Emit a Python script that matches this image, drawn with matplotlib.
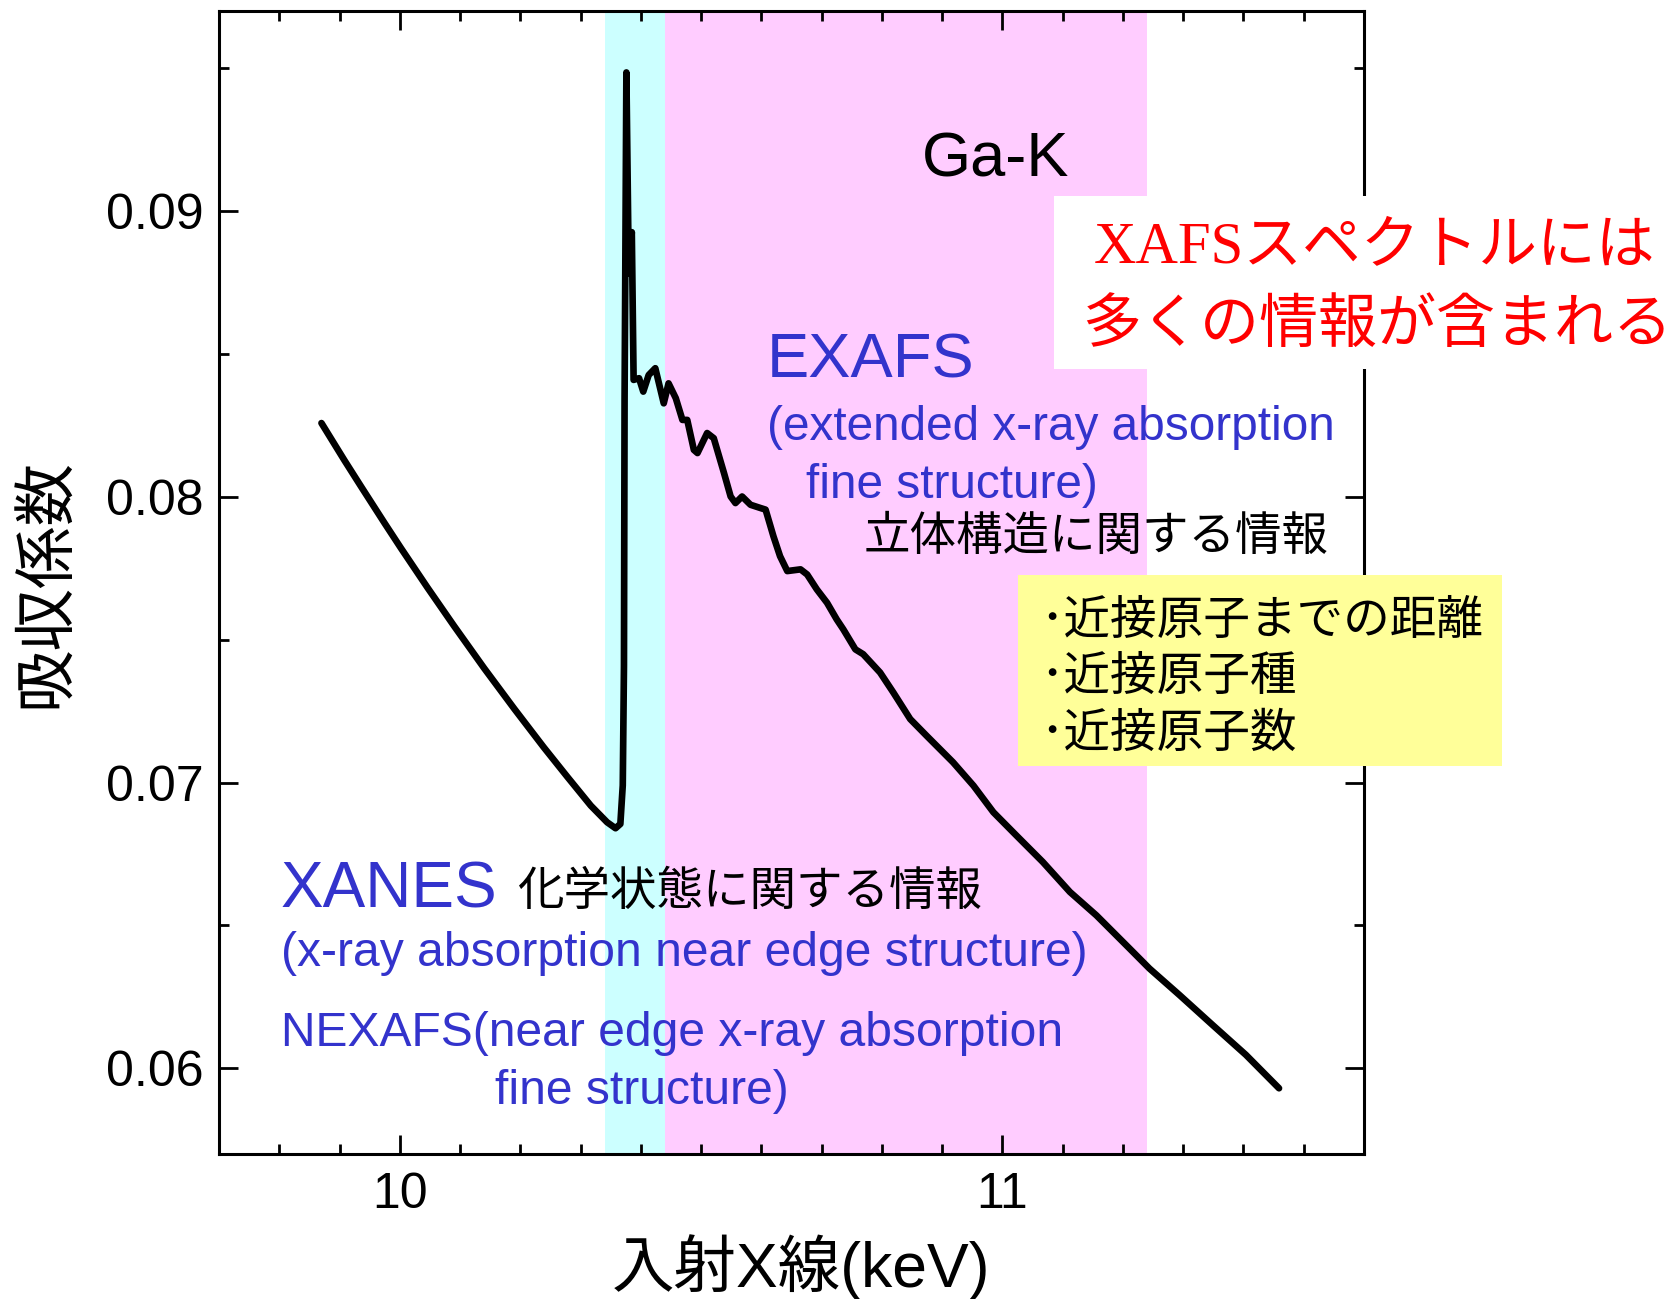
import matplotlib
matplotlib.use("Agg")
import matplotlib.pyplot as plt
from matplotlib.patches import Rectangle
from matplotlib.ticker import MultipleLocator

plt.rcParams['font.family'] = ['Liberation Sans', 'Noto Sans CJK JP']

# Ga-K edge spectrum
energy = [9.870, 9.908, 9.936, 9.975, 10.002, 10.046, 10.090, 10.140, 10.190, 10.239,
          10.278, 10.317, 10.344, 10.358, 10.366, 10.370, 10.372, 10.373, 10.376, 10.380,
          10.385, 10.388, 10.397, 10.404, 10.413, 10.424, 10.438, 10.446, 10.458, 10.469,
          10.477, 10.488, 10.494, 10.510, 10.521, 10.538, 10.549, 10.557, 10.568, 10.582,
          10.598, 10.607, 10.620, 10.631, 10.643, 10.665, 10.676, 10.692, 10.709, 10.725,
          10.736, 10.756, 10.769, 10.797, 10.819, 10.847, 10.874, 10.918, 10.952, 10.985,
          11.023, 11.067, 11.112, 11.156, 11.211, 11.244, 11.294, 11.349, 11.404, 11.459]
mu = [0.08258, 0.08128, 0.08035, 0.07907, 0.07820, 0.07682, 0.07548, 0.07400, 0.07258, 0.07123,
      0.07020, 0.06919, 0.06861, 0.06840, 0.06855, 0.06990, 0.07408, 0.08339, 0.09485, 0.08781,
      0.08926, 0.08409, 0.08415, 0.08368, 0.08426, 0.08450, 0.08327, 0.08397, 0.08345, 0.08269,
      0.08269, 0.08164, 0.08153, 0.08223, 0.08205, 0.08083, 0.08001, 0.07978, 0.08001, 0.07972,
      0.07961, 0.07955, 0.07862, 0.07792, 0.07740, 0.07746, 0.07728, 0.07676, 0.07629, 0.07571,
      0.07536, 0.07466, 0.07449, 0.07385, 0.07315, 0.07222, 0.07164, 0.07071, 0.06989, 0.06896,
      0.06815, 0.06722, 0.06617, 0.06535, 0.06419, 0.06349, 0.06256, 0.06151, 0.06047, 0.05930]

xanes_range = [10.34, 10.44]
exafs_range = [10.44, 11.24]
x_ticks = [10, 11]
x_ticklabels = ['10', '11']
y_ticks = [0.06, 0.07, 0.08, 0.09]
y_ticklabels = ['0.06', '0.07', '0.08', '0.09']

BLUE = '#3333cc'
W, H = 1676, 1299


def fx(px):
    return px / W


def fy(py):
    return 1 - py / H


def main():
    fig = plt.figure(figsize=(W / 100, H / 100), dpi=100)
    ax = fig.add_axes([fx(219), fy(1154), (1364 - 219) / W, (1154 - 11) / H])

    ax.axvspan(*xanes_range, color='#ccffff', lw=0)
    ax.axvspan(*exafs_range, color='#ffccff', lw=0)
    ax.plot(energy, mu, color='k', lw=4.8, solid_joinstyle='round', solid_capstyle='round')

    ax.set_xlim(9.7, 11.6)
    ax.set_ylim(0.057, 0.097)
    ax.set_xticks(x_ticks)
    ax.set_xticklabels(x_ticklabels)
    ax.set_yticks(y_ticks)
    ax.set_yticklabels(y_ticklabels)
    ax.xaxis.set_minor_locator(MultipleLocator(0.1))
    ax.yaxis.set_minor_locator(MultipleLocator(0.005))
    ax.tick_params(which='both', direction='in', top=True, right=True, width=2)
    ax.tick_params(which='major', length=14, labelsize=36)
    ax.tick_params(which='minor', length=7)
    ax.tick_params(axis='x', pad=13)
    ax.tick_params(axis='y', pad=11)
    for s in ax.spines.values():
        s.set_linewidth(2.2)

    ax.set_xlabel('入射X線(keV)', fontsize=45, va='center')
    ax.xaxis.set_label_coords(0.508, -0.099)
    ax.set_ylabel('吸収係数', fontsize=45, va='center')
    ax.yaxis.set_label_coords(-0.150, 0.500)

    # annotations (pixel positions of the original slide)
    fig.text(fx(996), fy(160), 'Ga-K', fontsize=45.5, ha='center', va='center')

    fig.text(fx(767), fy(361), 'EXAFS', fontsize=45.5, color=BLUE, va='center')
    fig.text(fx(767), fy(428), '(extended x-ray absorption', fontsize=34.4, color=BLUE, va='center')
    fig.text(fx(806), fy(485), 'fine structure)', fontsize=34.4, color=BLUE, va='center')
    fig.text(fx(864), fy(538), '立体構造に関する情報', fontsize=33.5, va='center')

    fig.text(fx(281), fy(890), 'XANES', fontsize=46, color=BLUE, va='center')
    fig.text(fx(518), fy(893), '化学状態に関する情報', fontsize=33.5, va='center')
    fig.text(fx(281), fy(954), '(x-ray absorption near edge structure)', fontsize=34.6, color=BLUE, va='center')
    fig.text(fx(281), fy(1033), 'NEXAFS(near edge x-ray absorption', fontsize=34.6, color=BLUE, va='center')
    fig.text(fx(495), fy(1091), 'fine structure)', fontsize=34.6, color=BLUE, va='center')

    fig.add_artist(Rectangle((fx(1018), fy(766)), (1502 - 1018) / W, (766 - 575) / H,
                             transform=fig.transFigure, facecolor='#ffff99', edgecolor='none'))
    fig.text(fx(1040), fy(622), '･近接原子までの距離', fontsize=33.6, va='center')
    fig.text(fx(1040), fy(678), '･近接原子種', fontsize=33.6, va='center')
    fig.text(fx(1040), fy(735), '･近接原子数', fontsize=33.6, va='center')

    fig.add_artist(Rectangle((fx(1054), fy(369)), (W - 1054) / W, (369 - 196) / H,
                             transform=fig.transFigure, facecolor='white', edgecolor='none'))
    fig.text(fx(1374), fy(248), 'XAFSスペクトルには', fontsize=42.3, color='red', ha='center', va='center',
             family=['Liberation Serif', 'Noto Sans CJK JP'])
    fig.text(fx(1377), fy(325), '多くの情報が含まれる', fontsize=42.5, color='red', ha='center', va='center',
             family=['Noto Sans CJK JP'])

    fig.savefig('out.png', dpi=100)


if __name__ == '__main__':
    main()
